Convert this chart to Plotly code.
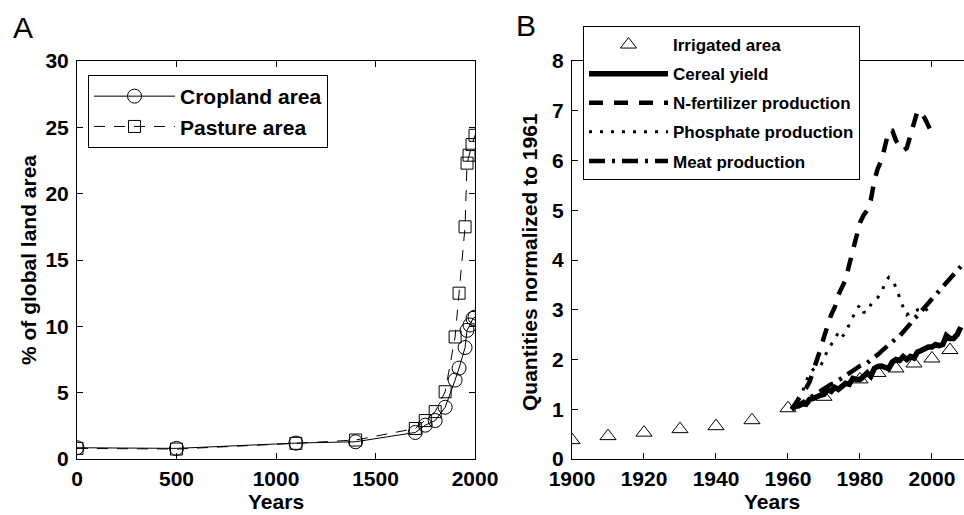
import plotly.graph_objects as go

# ---------------- Panel A data ----------------
crop_years = [0, 500, 1100, 1400, 1700, 1750, 1800, 1850, 1900, 1920, 1950, 1960, 1975, 1990, 2000]
crop_area = [0.85, 0.8, 1.2, 1.3, 2.0, 2.55, 2.9, 3.9, 5.95, 6.85, 8.4, 9.7, 10.1, 10.6, 10.7]
past_years = [0, 500, 1100, 1400, 1700, 1750, 1800, 1850, 1900, 1920, 1950, 1960, 1970, 1985, 2000]
past_area = [0.8, 0.75, 1.18, 1.43, 2.3, 2.9, 3.57, 5.07, 9.2, 12.5, 17.5, 22.3, 22.9, 23.7, 24.4]

# ---------------- Panel B data ----------------
irr_years = [1900, 1910, 1920, 1930, 1940, 1950, 1960, 1970, 1980, 1985, 1990, 1995, 2000, 2005]
irr_area = [0.38, 0.46, 0.53, 0.6, 0.66, 0.78, 1.02, 1.25, 1.6, 1.73, 1.82, 1.92, 2.02, 2.19]

cereal_years = list(range(1961, 2009))
cereal_yield = [1.0, 1.06, 1.07, 1.11, 1.1, 1.2, 1.22, 1.26, 1.28, 1.3,
                1.4, 1.36, 1.44, 1.4, 1.45, 1.52, 1.5, 1.62, 1.6, 1.6,
                1.66, 1.73, 1.66, 1.82, 1.86, 1.87, 1.84, 1.82, 1.95, 2.0,
                1.98, 2.06, 2.0, 2.06, 2.03, 2.15, 2.18, 2.22, 2.25, 2.25,
                2.3, 2.28, 2.3, 2.48, 2.42, 2.42, 2.5, 2.65]

nfert_years = list(range(1961, 2001))
nfert_prod = [1.0, 1.1, 1.2, 1.3, 1.42, 1.55, 1.75, 2.0, 2.2, 2.45,
              2.7, 2.9, 3.05, 3.3, 3.45, 3.6, 3.9, 4.2, 4.5, 4.75,
              4.9, 5.0, 5.2, 5.6, 5.85, 6.0, 6.3, 6.6, 6.6, 6.4,
              6.3, 6.2, 6.25, 6.5, 6.75, 7.0, 6.95, 6.85, 6.7, 6.55]

phos_years = list(range(1961, 2001))
phos_prod = [1.0, 1.1, 1.25, 1.35, 1.55, 1.72, 1.8, 1.85, 1.87, 2.0,
             2.2, 2.3, 2.4, 2.55, 2.45, 2.55, 2.7, 2.85, 3.0, 3.1,
             2.95, 2.95, 3.1, 3.2, 3.25, 3.35, 3.55, 3.65, 3.6, 3.45,
             3.25, 3.05, 2.9, 2.95, 2.95, 3.0, 3.0, 3.05, 2.95, 2.95]

meat_years = list(range(1961, 2009))
meat_prod = [1.0, 1.04, 1.09, 1.12, 1.17, 1.22, 1.27, 1.32, 1.36, 1.41,
             1.46, 1.5, 1.53, 1.58, 1.61, 1.66, 1.72, 1.78, 1.83, 1.87,
             1.9, 1.93, 1.99, 2.04, 2.1, 2.17, 2.24, 2.3, 2.35, 2.42,
             2.47, 2.55, 2.62, 2.72, 2.82, 2.88, 2.97, 3.05, 3.14, 3.22,
             3.28, 3.38, 3.46, 3.55, 3.63, 3.71, 3.79, 3.87]

xticks_a = [0, 500, 1000, 1500, 2000]
yticks_a = [0, 5, 10, 15, 20, 25, 30]
xticks_b = [1900, 1920, 1940, 1960, 1980, 2000]
yticks_b = [0, 1, 2, 3, 4, 5, 6, 7, 8]

W, H = 964, 515
FONT = "Liberation Sans, Arial, Helvetica, sans-serif"
BLK = "black"

fig = go.Figure()

# Panel A traces
fig.add_trace(go.Scatter(
    x=crop_years, y=crop_area, name="Cropland area", mode="lines+markers",
    line=dict(color=BLK, width=1),
    marker=dict(symbol="circle-open", size=14, color=BLK, line=dict(width=1, color=BLK)),
    xaxis="x", yaxis="y", legend="legend", legendgroup="a1"))
fig.add_trace(go.Scatter(
    x=past_years, y=past_area, name="Pasture area", mode="lines+markers",
    line=dict(color=BLK, width=1, dash="11px,9px"),
    marker=dict(symbol="square-open", size=12, color=BLK, line=dict(width=1, color=BLK)),
    xaxis="x", yaxis="y", legend="legend", legendgroup="a2"))

# Panel B traces
fig.add_trace(go.Scatter(
    x=irr_years, y=irr_area, name="Irrigated area", mode="markers",
    marker=dict(symbol="triangle-up-open", size=14, color=BLK, line=dict(width=1, color=BLK)),
    xaxis="x2", yaxis="y2", legend="legend2", legendgroup="b1"))
fig.add_trace(go.Scatter(
    x=cereal_years, y=cereal_yield, name="Cereal yield", mode="lines",
    line=dict(color=BLK, width=5.5),
    xaxis="x2", yaxis="y2", legend="legend2", legendgroup="b2"))
fig.add_trace(go.Scatter(
    x=nfert_years, y=nfert_prod, name="N-fertilizer production", mode="lines",
    line=dict(color=BLK, width=4.5, dash="14px,11px"),
    xaxis="x2", yaxis="y2", legend="legend2", legendgroup="b3"))
fig.add_trace(go.Scatter(
    x=phos_years, y=phos_prod, name="Phosphate production", mode="lines",
    line=dict(color=BLK, width=3, dash="3px,8px"),
    xaxis="x2", yaxis="y2", legend="legend2", legendgroup="b4"))
fig.add_trace(go.Scatter(
    x=meat_years, y=meat_prod, name="Meat production", mode="lines",
    line=dict(color=BLK, width=4.5, dash="16px,7px,3px,7px"),
    xaxis="x2", yaxis="y2", legend="legend2", legendgroup="b5"))

ydom = [(H - 459) / H, (H - 61) / H]
axis_common = dict(
    showgrid=False, zeroline=False, showline=True, linecolor=BLK, linewidth=1,
    ticks="inside", ticklen=6, tickcolor=BLK, tickwidth=1, automargin=False,
    tickfont=dict(family=FONT, size=21, color=BLK, weight="bold"),
)


def label(text, x, y, size=21, weight="bold", angle=0):
    return dict(text=text, x=x / W, y=1 - y / H, xref="paper", yref="paper",
                xanchor="center", yanchor="middle", showarrow=False, textangle=angle,
                font=dict(family=FONT, size=size, color=BLK, weight=weight))


fig.update_layout(
    width=W, height=H,
    margin=dict(l=0, r=0, t=0, b=0, pad=0, autoexpand=False),
    paper_bgcolor="white", plot_bgcolor="white",
    font=dict(family=FONT, color=BLK),
    xaxis=dict(domain=[77 / W, 475 / W], range=[0, 2000], tickvals=xticks_a,
               mirror="ticks", anchor="y", ticklabelstandoff=1, **axis_common),
    yaxis=dict(domain=ydom, range=[0, 30], tickvals=yticks_a,
               mirror="ticks", anchor="x", ticklabelstandoff=3, **axis_common),
    xaxis2=dict(domain=[572 / W, 1.0], range=[1900, 2008.9], tickvals=xticks_b,
                mirror="ticks", anchor="y2", ticklabelstandoff=1, **axis_common),
    yaxis2=dict(domain=ydom, range=[0, 8], tickvals=yticks_b,
                mirror=False, anchor="x2", ticklabelstandoff=3, **axis_common),
    legend=dict(
        x=88 / W, y=1 - 75 / H, xanchor="left", yanchor="top",
        bgcolor="white", bordercolor=BLK, borderwidth=1,
        font=dict(family=FONT, size=21, color=BLK, weight="bold"),
        itemwidth=81, tracegroupgap=0, traceorder="grouped",
    ),
    legend2=dict(
        x=583 / W, y=1 - 26 / H, xanchor="left", yanchor="top",
        bgcolor="white", bordercolor=BLK, borderwidth=1,
        font=dict(family=FONT, size=17, color=BLK, weight="bold"),
        itemwidth=79, tracegroupgap=4, traceorder="grouped",
    ),
    showlegend=True,
    annotations=[
        label("A", 23, 27, size=30, weight="normal"),
        label("B", 526, 26, size=30, weight="normal"),
        label("Years", 276, 501),
        label("Years", 772, 501),
        label("% of global land area", 28, 260, angle=-90),
        label("Quantities normalized to 1961", 529, 262, angle=-90),
    ],
)

fig.write_html("out.html")
